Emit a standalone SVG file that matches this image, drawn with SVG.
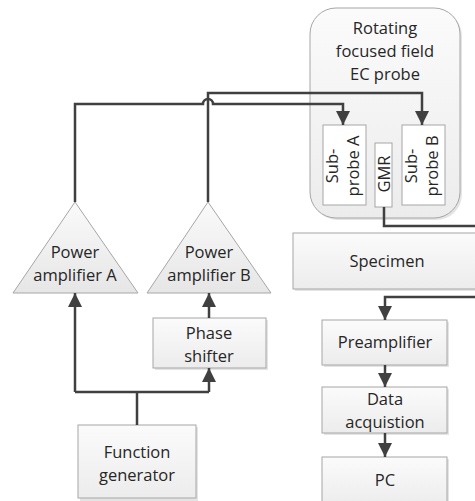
<svg xmlns="http://www.w3.org/2000/svg" width="475" height="501" viewBox="0 0 475 501">
<defs>
<linearGradient id="gbox" x1="0" y1="0" x2="0" y2="1">
<stop offset="0" stop-color="#fbfbfb"/><stop offset="1" stop-color="#ececec"/>
</linearGradient>
<linearGradient id="gtri" x1="0" y1="0" x2="0" y2="1">
<stop offset="0" stop-color="#fafafa"/><stop offset="1" stop-color="#e6e6e6"/>
</linearGradient>
<marker id="ah" viewBox="0 0 10 10" refX="10" refY="5" markerWidth="5.6" markerHeight="5.6" orient="auto" markerUnits="strokeWidth">
<path d="M0,0 L10,5 L0,10 z" fill="#404040"/>
</marker>
</defs>
<style>
.box{fill:url(#gbox);stroke:#a6a6a6;stroke-width:1}
.sh{fill:#e4e4e4;stroke:none}
.tri{fill:url(#gtri);stroke:#a6a6a6;stroke-width:1}
.t{font-family:"Open Sans","Liberation Sans",sans-serif;font-size:16.5px;fill:#262626;text-anchor:middle}
.w{fill:none;stroke:#404040;stroke-width:2.5}
</style>
<g id="probe">
<rect x="312" y="10" width="150" height="210" rx="26" class="sh"/>
<rect x="310" y="8" width="150" height="210" rx="26" class="box"/>
<text class="t" x="385" y="34">Rotating</text>
<text class="t" x="385" y="57">focused field</text>
<text class="t" x="385" y="80">EC probe</text>
</g>
<g id="subA">
<rect x="323" y="125" width="43" height="80" fill="#ffffff" stroke="#a6a6a6"/>
<text class="t" transform="translate(338,166) rotate(-90)"><tspan x="0" y="0">Sub-</tspan><tspan x="0" y="21">probe A</tspan></text>
</g>
<g id="gmr">
<rect x="375" y="143" width="17" height="64" fill="#ffffff" stroke="#a6a6a6"/>
<text class="t" transform="translate(389.5,174) rotate(-90)">GMR</text>
</g>
<g id="subB">
<rect x="402" y="125" width="43" height="80" fill="#ffffff" stroke="#a6a6a6"/>
<text class="t" transform="translate(417,166) rotate(-90)"><tspan x="0" y="0">Sub-</tspan><tspan x="0" y="21">probe B</tspan></text>
</g>
<g id="ampA">
<polygon points="75,202 138,293 13,293" class="tri"/>
<text class="t" x="75" y="258">Power</text>
<text class="t" x="75" y="281">amplifier A</text>
</g>
<g id="ampB">
<polygon points="208,202 271,293 147,293" class="tri"/>
<text class="t" x="209" y="258">Power</text>
<text class="t" x="209" y="281">amplifier B</text>
</g>
<g id="phase">
<rect x="155" y="320" width="113" height="50" class="sh"/>
<rect x="153" y="318" width="113" height="50" class="box"/>
<text class="t" x="209" y="339">Phase</text>
<text class="t" x="209" y="362">shifter</text>
</g>
<g id="func">
<rect x="80" y="427" width="118" height="74" class="sh"/>
<rect x="78" y="425" width="118" height="73" class="box"/>
<text class="t" x="137" y="458">Function</text>
<text class="t" x="137" y="481">generator</text>
</g>
<g id="specimen">
<rect x="295" y="235" width="182" height="56" class="sh"/>
<rect x="293" y="233" width="184" height="56" class="box"/>
<text class="t" x="387" y="267">Specimen</text>
</g>
<g id="preamp">
<rect x="324" y="322" width="125" height="45" class="sh"/>
<rect x="322" y="320" width="125" height="45" class="box"/>
<text class="t" x="385" y="348">Preamplifier</text>
</g>
<g id="daq">
<rect x="324" y="389" width="125" height="46" class="sh"/>
<rect x="322" y="387" width="125" height="46" class="box"/>
<text class="t" x="385" y="405">Data</text>
<text class="t" x="385" y="428">acquistion</text>
</g>
<g id="pc">
<rect x="324" y="459" width="125" height="50" class="sh"/>
<rect x="322" y="457" width="125" height="50" class="box"/>
<text class="t" x="385" y="486">PC</text>
</g>
<g id="connectors">
<path class="w" d="M75,202 V104 H203 A5,5 0 0 1 213,104 H343 V125" marker-end="url(#ah)"/>
<path class="w" d="M208,202 V93 H422 V125" marker-end="url(#ah)"/>
<path class="w" d="M137,425 V392"/>
<path class="w" d="M75,392 H209"/>
<path class="w" d="M75,392 V293" marker-end="url(#ah)"/>
<path class="w" d="M209,392 V368" marker-end="url(#ah)"/>
<path class="w" d="M209,318 V293" marker-end="url(#ah)"/>
<path class="w" d="M384,207 V226 H476"/>
<path class="w" d="M476,297 H385 V320" marker-end="url(#ah)"/>
<path class="w" d="M385,365 V387" marker-end="url(#ah)"/>
<path class="w" d="M385,433 V457" marker-end="url(#ah)"/>
</g>
</svg>
